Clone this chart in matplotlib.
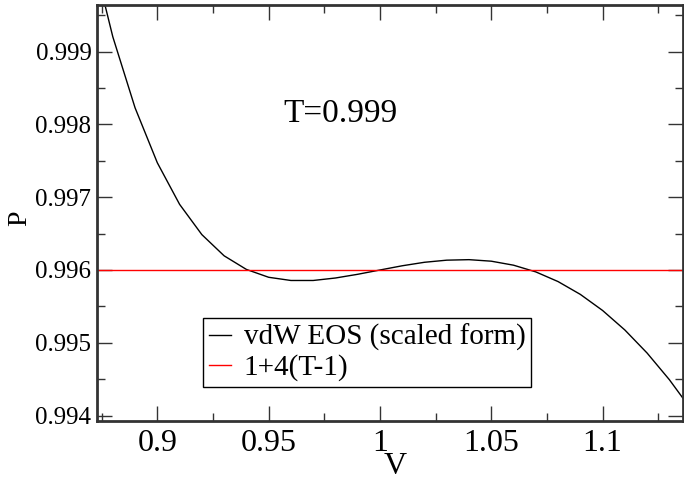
import numpy as np
import matplotlib
matplotlib.use("Agg")
import matplotlib.pyplot as plt
from matplotlib.ticker import MultipleLocator

# isotherm, T = 0.999
V = [0.87, 0.88, 0.89, 0.90, 0.91, 0.92, 0.93, 0.94, 0.95, 0.96,
     0.97, 0.98, 0.99, 1.00, 1.01, 1.02, 1.03, 1.04, 1.05, 1.06,
     1.07, 1.08, 1.09, 1.10, 1.11, 1.12, 1.13, 1.14]
P = [1.000445, 0.999204, 0.998228, 0.997473, 0.996902, 0.996486, 0.996195,
     0.996008, 0.995900, 0.995856, 0.995856, 0.995890, 0.995941, 0.996000,
     0.996058, 0.996106, 0.996135, 0.996142, 0.996121, 0.996066, 0.995974,
     0.995841, 0.995665, 0.995444, 0.995176, 0.994859, 0.994493, 0.994076]
P_line = 0.996  # 1+4(T-1)

plt.rcParams["font.family"] = ["Liberation Serif", "DejaVu Serif"]

fig = plt.figure(figsize=(6.84, 4.82), dpi=100)
ax = fig.add_axes([0.1418, 0.1272, 0.857, 0.8624])

ax.plot(V, P, color="black", lw=1.0, label="vdW EOS (scaled form)")
ax.axhline(P_line, color="red", lw=1.0, label="1+4(T-1)")

ax.set_xlim(0.8729, 1.1362)
ax.set_ylim(0.99393, 0.99964)

ax.xaxis.set_minor_locator(MultipleLocator(0.025))
ax.yaxis.set_minor_locator(MultipleLocator(0.0005))
ax.set_xticks([0.9, 0.95, 1.0, 1.05, 1.1])
ax.set_xticklabels(["0.9", "0.95", "1", "1.05", "1.1"])
ax.set_yticks([0.994, 0.995, 0.996, 0.997, 0.998, 0.999])
ax.set_yticklabels(["0.994", "0.995", "0.996", "0.997", "0.998", "0.999"])

ax.tick_params(which="both", direction="in", top=True, right=True, color="#333333")
ax.tick_params(which="major", length=11, width=1.0)
ax.tick_params(which="minor", length=6, width=1.0)
ax.tick_params(axis="x", labelsize=23, pad=6)
ax.tick_params(axis="y", labelsize=18, pad=4)
for s in ax.spines.values():
    s.set_linewidth(2)
    s.set_color("#333333")

ax.set_xlabel("V", fontsize=23)
ax.xaxis.label.set_va("center")
ax.xaxis.set_label_coords(0.5085, -0.111)
ax.set_ylabel("P", fontsize=20)
ax.yaxis.label.set_va("center")
ax.yaxis.set_label_coords(-0.131, 0.488)

ax.text(0.3174, 0.7378, "T=0.999", transform=ax.transAxes, fontsize=24,
        ha="left", va="center")

leg = ax.legend(loc="upper left", bbox_to_anchor=(0.1814, 0.2463), fontsize=21,
                frameon=True, fancybox=False, edgecolor="black", framealpha=1,
                handlelength=0.76, handletextpad=0.43, borderpad=0.2,
                labelspacing=0.1, borderaxespad=0)
leg.get_frame().set_linewidth(1.0)

fig.savefig("out.png", dpi=100)
